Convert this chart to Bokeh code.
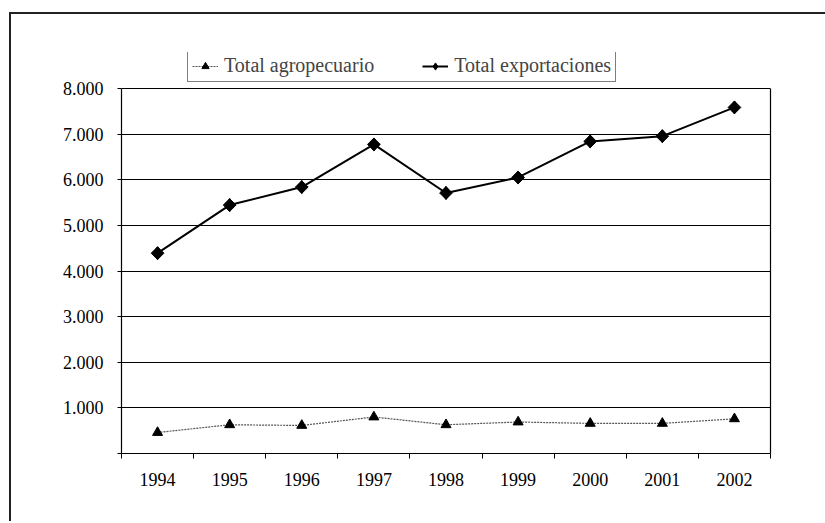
import math
from bokeh.plotting import figure
from bokeh.models import FixedTicker, Legend, LegendItem, Range1d, LinearAxis
from bokeh.embed import file_html
from bokeh.resources import INLINE

years = ["1994", "1995", "1996", "1997", "1998", "1999", "2000", "2001", "2002"]
total_agropecuario = [460, 630, 615, 800, 630, 690, 660, 660, 760]
total_exportaciones = [4390, 5445, 5840, 6775, 5710, 6050, 6840, 6955, 7585]
y_ticks = [0, 1000, 2000, 3000, 4000, 5000, 6000, 7000, 8000]

SERIF = "Liberation Serif"

x = [i + 0.5 for i in range(len(years))]
y_top = y_ticks[-1]
# frame extends above the 8.000 line so that the legend can sit above the plot box
y_max = y_top * 401 / 365

p = figure(width=816, height=509, x_range=Range1d(0, len(years)), y_range=Range1d(0, y_max),
           output_backend="svg", toolbar_location=None,
           min_border_left=110, min_border_right=57, min_border_top=38, min_border_bottom=70,
           margin=(12, 0, 0, 9))
p.styles = {"border-top": "2px solid #222", "border-left": "2px solid #222",
            "border-right": "0px none", "border-bottom": "0px none",
            "outline": "none", "box-shadow": "none", "overflow": "hidden", "max-width": "none"}
p.background_fill_color = "white"
p.border_fill_color = "white"
p.outline_line_color = None

# grids
p.xgrid.visible = False
p.ygrid.grid_line_color = "black"
p.ygrid.grid_line_width = 1.2
p.ygrid.ticker = FixedTicker(ticks=y_ticks)

# y axis
p.yaxis.ticker = FixedTicker(ticks=y_ticks)
p.yaxis.bounds = (0, y_top)
p.yaxis.major_label_overrides = {v: ("" if v == 0 else f"{v:,}".replace(",", ".")) for v in y_ticks}
p.yaxis.axis_line_color = "black"
p.yaxis.axis_line_width = 1.2
p.yaxis.major_tick_out = 4
p.yaxis.major_tick_in = 0
p.yaxis.minor_tick_line_color = None
p.yaxis.major_label_text_font = SERIF
p.yaxis.major_label_text_font_size = "18px"
p.yaxis.major_label_text_color = "black"
p.yaxis.major_label_standoff = 14

# right edge of plot box
ax_r = LinearAxis(bounds=(0, y_top), ticker=FixedTicker(ticks=[]), major_tick_out=0, major_tick_in=0,
                  minor_tick_out=0, minor_tick_in=0, major_label_text_font_size="0px",
                  axis_line_color="black", axis_line_width=1.2)
p.add_layout(ax_r, "right")

# x axis
p.xaxis.ticker = FixedTicker(ticks=x, minor_ticks=list(range(len(years) + 1)))
p.xaxis.major_label_overrides = {xx: yr for xx, yr in zip(x, years)}
p.xaxis.axis_line_color = "black"
p.xaxis.axis_line_width = 1.2
p.xaxis.major_tick_out = 0
p.xaxis.major_tick_in = 0
p.xaxis.minor_tick_out = 5
p.xaxis.minor_tick_in = 0
p.xaxis.minor_tick_line_color = "black"
p.xaxis.major_label_text_font = SERIF
p.xaxis.major_label_text_font_size = "18px"
p.xaxis.major_label_text_color = "black"
p.xaxis.major_label_standoff = 14

r_agro_line = p.line(x, total_agropecuario, line_color="#555555", line_width=1.2, line_dash="2 1")
r_agro_pts = p.scatter(x, total_agropecuario, marker="triangle", size=10, color="black")
r_exp_line = p.line(x, total_exportaciones, line_color="black", line_width=2)
# diamond marker (used for the legend swatch), covered by the rotated squares drawn on top
r_exp_leg = p.scatter(x, total_exportaciones, marker="diamond", size=13, color="black")
r_exp_pts = p.scatter(x, total_exportaciones, marker="square", size=9, angle=math.pi / 4, color="black")

legend = Legend(items=[
    LegendItem(label="Total agropecuario", renderers=[r_agro_line, r_agro_pts]),
    LegendItem(label="Total exportaciones", renderers=[r_exp_line, r_exp_leg]),
], orientation="horizontal", location=(66, 371), border_line_color="black", border_line_width=1,
    label_text_font=SERIF, label_text_font_size="20px", glyph_width=26, glyph_height=18,
    spacing=48, padding=4, margin=0, label_standoff=6, background_fill_alpha=1)
p.add_layout(legend)

open("out.html", "w").write(file_html(p, INLINE))
